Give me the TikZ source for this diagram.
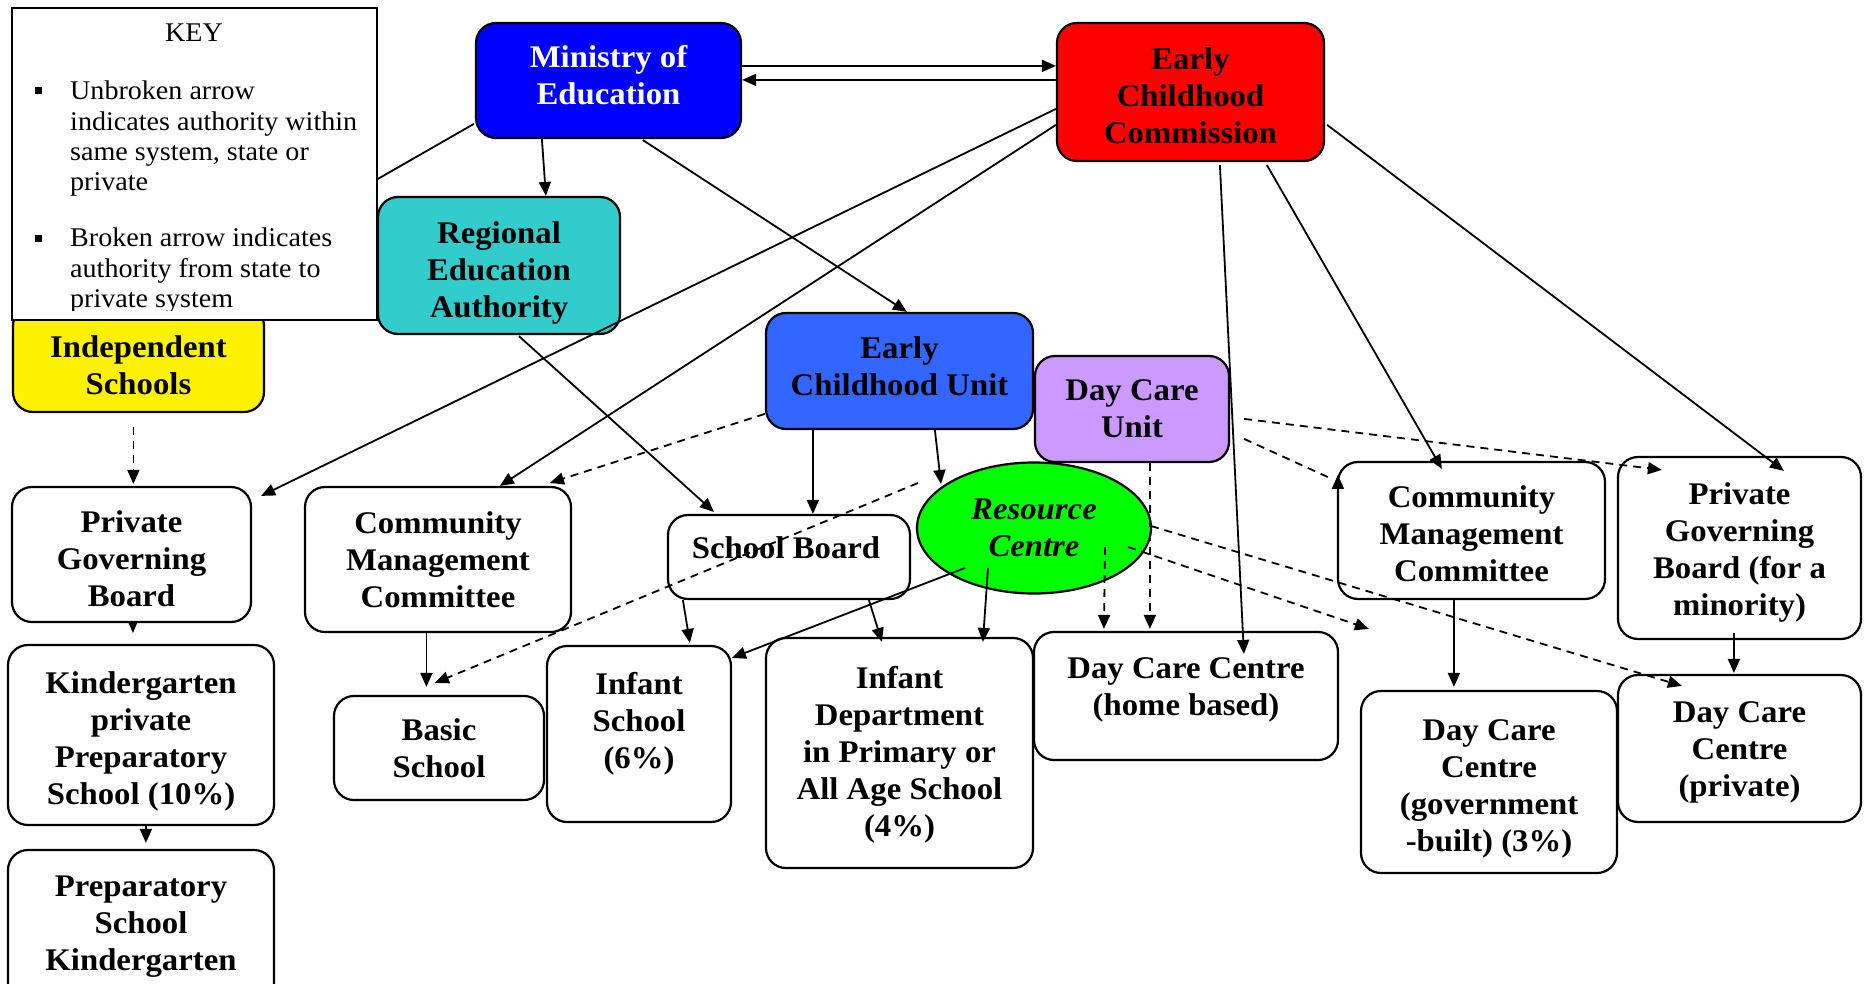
\documentclass[tikz,border=0pt]{standalone}
\usepackage{fontspec}
\setmainfont{Liberation Serif}[FakeStretch=1.04]
\usetikzlibrary{shapes.geometric,arrows.meta,calc}
\definecolor{mblue}{HTML}{0000FF}
\definecolor{ecred}{HTML}{FF0000}
\definecolor{reateal}{HTML}{33CCCC}
\definecolor{ecublue}{HTML}{3366FF}
\definecolor{dcupurple}{HTML}{CC99FF}
\definecolor{rcgreen}{HTML}{00FF00}
\begin{document}
\begin{tikzpicture}[x=1pt,y=-1pt,
  box/.style={draw, line width=2.2pt, rounded corners=20pt, fill=white, inner sep=0pt, align=center, font=\bfseries\fontsize{31.5}{37}\selectfont},
  txt/.style={inner sep=0pt, align=center, font=\bfseries\fontsize{31.5}{37}\selectfont},
  keytxt/.style={inner sep=0pt, font=\fontsize{27}{30.5}\selectfont},
  conn/.style={line width=1.8pt, -{Triangle[length=14pt,width=12pt]}},
  dconn/.style={conn, dash pattern=on 8pt off 6pt},
  dline/.style={line width=1.8pt, dash pattern=on 8pt off 6pt}
]
\useasboundingbox (0,0) rectangle (1867,984);
\clip (0,0) rectangle (1867,984);

% boxes
\node[box, fill=mblue, minimum width=265pt, minimum height=115pt] (ministry) at (608.5,80.5) {};
\node[txt, text=white] (ministryt) at (608.5,75.5) {Ministry of\\Education};
\node[box, fill=ecred, minimum width=267pt, minimum height=138pt] (ecc) at (1190.5,92) {};
\node[txt] (ecct) at (1190.5,95.5) {Early\\Childhood\\Commission};
\node[box, fill=reateal, minimum width=242pt, minimum height=137pt] (rea) at (499,265.5) {};
\node[txt] (reat) at (499,272.5) {Regional\\Education\\Authority};
\node[box, fill=yellow, minimum width=251pt, minimum height=106pt] (indep) at (138.5,359) {};
\node[txt] (indept) at (138.5,365) {Independent\\Schools};
\node[box, fill=ecublue, minimum width=267pt, minimum height=116pt] (ecu) at (899.5,371) {};
\node[txt] (ecut) at (899.5,366) {Early\\Childhood Unit};
\node[box, fill=dcupurple, minimum width=194pt, minimum height=106pt] (dcu) at (1132,409) {Day Care\\Unit};
\node[ellipse, draw, line width=2.2pt, fill=rcgreen, minimum width=234pt, minimum height=131pt, inner sep=0pt, align=center, font=\bfseries\itshape\fontsize{31.5}{37}\selectfont] (rc) at (1034,528) {Resource\\Centre};
\node[box, minimum width=242pt, minimum height=84pt] (sb) at (789,557) {};
\node[txt] (sbt) at (786,548) {School Board};
\node[box, minimum width=184pt, minimum height=176pt] (is) at (639,734) {};
\node[txt] (ist) at (639,723.5) {Infant\\School\\(6\%)};
\node[box, minimum width=267pt, minimum height=230pt] (id) at (899.5,753) {};
\node[txt] (idt) at (899.5,755) {Infant\\Department\\in Primary or\\All Age School\\(4\%)};
\node[box, minimum width=304pt, minimum height=128pt] (dch) at (1186,696) {};
\node[txt] (dcht) at (1186,690) {Day Care Centre\\(home based)};
\node[box, minimum width=267pt, minimum height=137pt] (cmc2) at (1471.5,530.5) {};
\node[txt] (cmc2t) at (1471.5,534) {Community\\Management\\Committee};
\node[box, minimum width=243pt, minimum height=182pt] (pgb2) at (1739.5,548) {};
\node[txt] (pgb2t) at (1739.5,552.5) {Private\\Governing\\Board (for a\\minority)};
\node[box, minimum width=256pt, minimum height=182pt] (dcg) at (1489,782) {};
\node[txt] (dcgt) at (1489,788.5) {Day Care\\Centre\\(government\\-built) (3\%)};
\node[box, minimum width=243pt, minimum height=147pt] (dcp) at (1739.5,748.5) {};
\node[txt] (dcpt) at (1739.5,752) {Day Care\\Centre\\(private)};
\node[box, minimum width=239pt, minimum height=135pt] (pgb1) at (131.5,554.5) {};
\node[txt] (pgb1t) at (131.5,559) {Private\\Governing\\Board};
\node[box, minimum width=266pt, minimum height=145pt] (cmc1) at (438,559.5) {Community\\Management\\Committee};
\node[box, minimum width=266pt, minimum height=180pt] (kps) at (141,735) {};
\node[txt] (kpst) at (141,741.5) {Kindergarten\\private\\Preparatory\\School (10\%)};
\node[box, minimum width=210pt, minimum height=104pt] (bs) at (439,748) {Basic\\School};
\node[box, minimum width=266pt, minimum height=180pt] (psk) at (141,940) {};
\node[txt] (pskt) at (141,927) {Preparatory\\School\\Kindergarten};

% connectors
\draw[conn] ($(ministry.north east)+(0,44)$) -- ($(ecc.north west)+(0,44)$);
\draw[conn] ($(ecc.north west)+(0,58)$) -- ($(ministry.north east)+(0,58)$);
\draw[conn] ($(ministry.south west)+(67,0)$) -- ($(rea.north west)+(169,0)$);
\draw[conn] ($(ministry.south west)+(168,1)$) -- ($(ecu.north west)+(142,0)$);
\draw[conn] ($(ecc.north west)+(0,87)$) -- ($(pgb1.north east)+(9,10)$);
\draw[conn] ($(ecc.north west)+(0,103)$) -- ($(cmc1.north west)+(196,0)$);
\draw[conn] ($(ministry.north west)+(-1,102)$) -- ($(indep.north west)+(146,0)$);
\draw[conn] ($(ecc.south west)+(164,3)$) -- ($(dch.north west)+(211,23)$);
\draw[conn] ($(ecc.south west)+(211,3)$) -- ($(cmc2.north west)+(105,8)$);
\draw[conn] ($(ecc.north east)+(2,103)$) -- ($(pgb2.north west)+(167,15)$);
\draw[dconn] ($(dcu.north east)+(14,64)$) -- ($(pgb2.north west)+(45,14)$);
\draw[dline] ($(dcu.north east)+(14,84)$) -- ($(cmc2.north west)+(-5,18)$);
\draw[conn] ($(cmc2.north west)+(1,40)$) -- ($(cmc2.north west)+(1,14)$);
\draw[dconn] ($(dcu.south west)+(116,0)$) -- ($(dch.north west)+(117,-2)$);
\draw[dconn] ($(rc.center)+(71,19)$) -- ($(dch.north west)+(71,-2)$);
\coordinate (rcend) at ($(dcg.north west)+(9,-61)$);
\draw[dconn] ($(rc.center)+(94,19)$) -- (rcend);
\draw[dconn] ($(rc.center)+(117,-2)$) -- ($(dcp.north west)+(65,12)$);
\draw[dconn] ($(ecu.north west)+(0,102)$) -- ($(cmc1.north west)+(246,-3)$);
\draw[dconn] ($(rc.center)+(-116,-45)$) -- ($(bs.north west)+(102,-12)$);
\draw[conn] ($(ecu.south west)+(48,0)$) -- ($(sb.north west)+(146,0)$);
\draw[conn] ($(ecu.south west)+(170,0)$) -- ($(rc.center)+(-93,-44)$);
\draw[conn] ($(rea.south west)+(142,1)$) -- ($(sb.north west)+(47,-2)$);
\draw[conn] ($(sb.south west)+(16,0)$) -- ($(is.north west)+(144,-2)$);
\draw[conn] ($(sb.south west)+(202,0)$) -- ($(id.north west)+(117,5)$);
\draw[conn] ($(rc.center)+(-69,40)$) -- ($(is.north west)+(186,13)$);
\draw[conn] ($(rc.center)+(-46,40)$) -- ($(id.north west)+(218,5)$);
\draw[conn] ($(cmc1.south west)+(122.5,0)$) -- ($(bs.north west)+(93.5,-8)$);
\draw[line width=1.5pt, -{Triangle[length=10pt,width=8pt]}] ($(pgb1.south west)+(122,0)$) -- ($(pgb1.south west)+(122,10)$);
\draw[conn] ($(kps.south west)+(139,0)$) -- ($(psk.north west)+(139,-6)$);
\draw[dconn] ($(indep.south west)+(121.5,14)$) -- ($(pgb1.north west)+(122.5,-2)$);
\draw[conn] ($(cmc2.south west)+(117,0)$) -- ($(dcg.north west)+(94,-3)$);
\draw[conn] ($(pgb2.south west)+(117,-7)$) -- ($(dcp.north west)+(117,-1)$);

% key
\node[draw, line width=2pt, fill=white, minimum width=365pt, minimum height=312pt, inner sep=0pt] (key) at (194.5,164) {};
\node[keytxt, anchor=base] (keyh) at (194,42) {KEY};
\node[fill=black, minimum size=7pt, inner sep=0pt] (b1) at (38.5,90.5) {};
\node[fill=black, minimum size=7pt, inner sep=0pt] (b2) at (38.5,238.5) {};
\begin{scope}
\clip (key.north west) rectangle ($(key.south east)+(0,-11)$);
\node[keytxt, anchor=base west] (k1) at (70,100) {Unbroken arrow};
\node[keytxt, anchor=base west] (k2) at (70,130.3) {indicates authority within};
\node[keytxt, anchor=base west] (k3) at (70,160.6) {same system, state or};
\node[keytxt, anchor=base west] (k4) at (70,191) {private};
\node[keytxt, anchor=base west] (k5) at (70,246.7) {Broken arrow indicates};
\node[keytxt, anchor=base west] (k6) at (70,277) {authority from state to};
\node[keytxt, anchor=base west] (k7) at (70,307) {private system};
\end{scope}
\end{tikzpicture}
\end{document}
